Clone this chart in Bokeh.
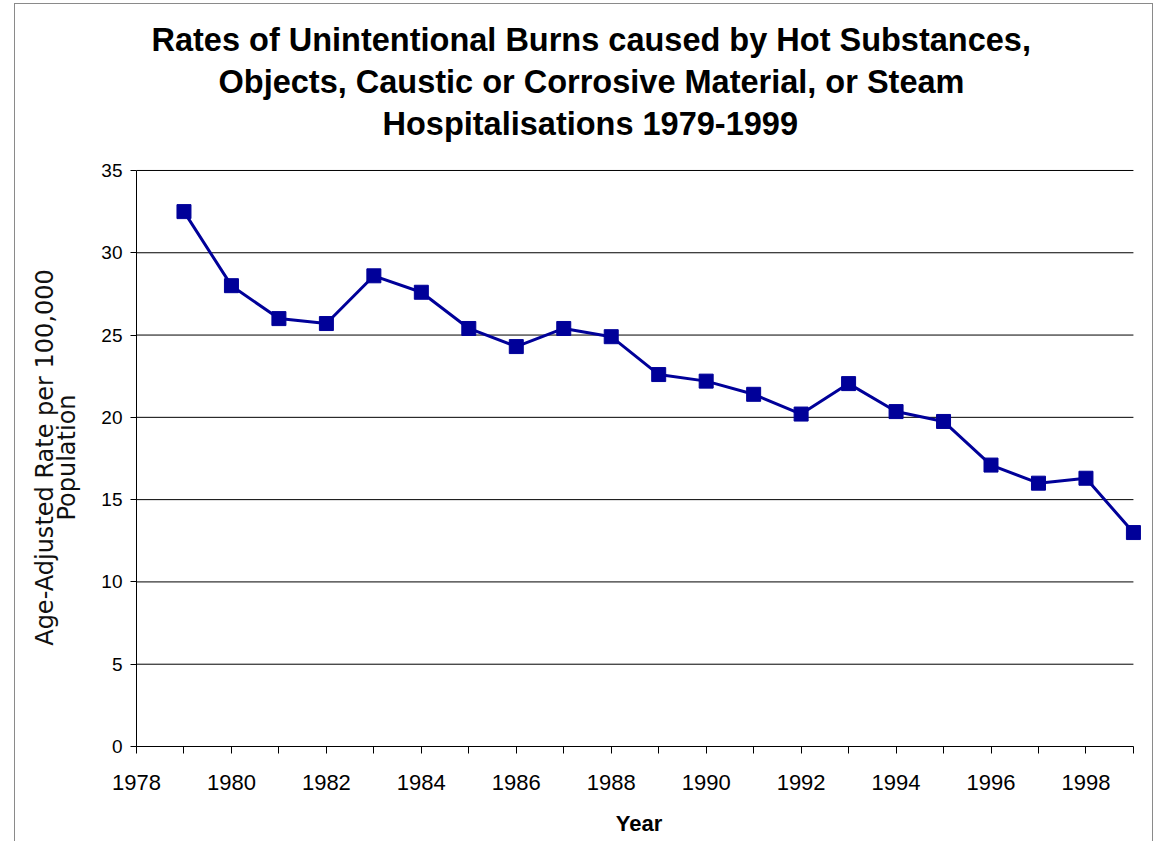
from bokeh.plotting import figure
from bokeh.models import Range1d, FixedTicker, Title
from bokeh.embed import file_html
from bokeh.resources import INLINE

# ---- data ----
years = list(range(1979, 2000))
rates = [32.5, 28.0, 26.0, 25.7, 28.6, 27.6, 25.4, 24.3, 25.4, 24.9,
         22.6, 22.2, 21.4, 20.2, 22.05, 20.35, 19.75, 17.1, 16.0, 16.3, 13.0]
x_major = [1978, 1980, 1982, 1984, 1986, 1988, 1990, 1992, 1994, 1996, 1998]
x_minor = [1979, 1981, 1983, 1985, 1987, 1989, 1991, 1993, 1995, 1997, 1999]
y_ticks = [0, 5, 10, 15, 20, 25, 30, 35]

title_lines = [
    "Rates of Unintentional Burns caused by Hot Substances,",
    "Objects, Caustic or Corrosive Material, or Steam",
    "Hospitalisations 1979-1999",
]
x_label = "Year"
y_label = "Age-Adjusted Rate per 100,000\nPopulation"

COLOR = "#000099"

frame_border = ("inset 14px 0 0 0 #ffffff, inset 0 3px 0 0 #ffffff, "
                "inset -5px 0 0 0 #ffffff, inset 15px 0 0 0 #8a8a8a, "
                "inset 0 4px 0 0 #8a8a8a, inset -6px 0 0 0 #8a8a8a")

p = figure(width=1158, height=841,
           x_range=Range1d(x_major[0], x_minor[-1] + 0.17),
           y_range=Range1d(y_ticks[0], y_ticks[-1] + 0.12),
           min_border_left=136, min_border_right=17,
           min_border_top=168, min_border_bottom=95,
           output_backend="svg", toolbar_location=None,
           background_fill_color="white", border_fill_color=None,
           styles={"box-shadow": frame_border, "background-color": "white"})
p.outline_line_color = None
p.xgrid.visible = False
p.ygrid.visible = False

# horizontal gridlines
g = y_ticks[1:]
p.segment(x0=[x_major[0]] * len(g), x1=[x_minor[-1]] * len(g),
          y0=g, y1=g, line_color="black", line_width=1)

# series
p.line(years, rates, line_color=COLOR, line_width=3)
p.scatter(years, rates, marker="square", size=14,
          fill_color=COLOR, line_color=COLOR)

# spacer between the title block and the plot area
p.add_layout(Title(text=" ", text_font_size="2px", standoff=21), "above")

# title: three lines, left-aligned with per-line offsets so the block is
# centred slightly left of the plot centre (as in the original)
title_offsets = [15, 82, 246]
for line, off in reversed(list(zip(title_lines, title_offsets))):
    p.add_layout(Title(text=line, align="left", offset=off, standoff=4,
                       text_font="Liberation Sans", text_font_size="32.5px",
                       text_font_style="bold", text_color="black"), "above")

# x axis
xa = p.xaxis[0]
xa.ticker = FixedTicker(ticks=x_major, minor_ticks=x_minor)
xa.bounds = (x_major[0], x_minor[-1])
xa.axis_line_color = "black"
xa.major_tick_line_color = "black"
xa.minor_tick_line_color = "black"
xa.major_tick_in = 0
xa.major_tick_out = 7
xa.minor_tick_in = 0
xa.minor_tick_out = 7
xa.major_label_text_font = "Liberation Sans"
xa.major_label_text_font_size = "22px"
xa.major_label_text_color = "black"
xa.major_label_standoff = 21
xa.axis_label = x_label
xa.axis_label_text_font = "Liberation Sans"
xa.axis_label_text_font_size = "22px"
xa.axis_label_text_font_style = "bold"
xa.axis_label_text_color = "black"
xa.axis_label_standoff = 18

# y axis
ya = p.yaxis[0]
ya.ticker = FixedTicker(ticks=y_ticks, minor_ticks=[])
ya.bounds = (y_ticks[0], y_ticks[-1])
ya.axis_line_color = "black"
ya.major_tick_line_color = "black"
ya.major_tick_in = 0
ya.major_tick_out = 6
ya.major_label_text_font = "Liberation Sans"
ya.major_label_text_font_size = "19px"
ya.major_label_text_color = "black"
ya.major_label_standoff = 8
ya.axis_label = y_label
ya.axis_label_text_font = "DejaVu Sans"
ya.axis_label_text_font_size = "24px"
ya.axis_label_text_font_style = "normal"
ya.axis_label_text_color = "#111111"
ya.axis_label_text_line_height = 0.8
ya.axis_label_standoff = 17

open("out.html", "w").write(file_html(p, INLINE))
